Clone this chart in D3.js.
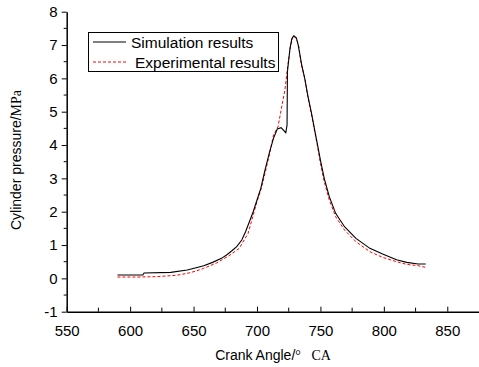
<!DOCTYPE html>
<html>
<head>
<meta charset="utf-8">
<script src="https://cdn.jsdelivr.net/npm/d3@7"></script>
<style>
  body { margin: 0; background: #fff; }
  svg text { font-family: "Liberation Sans", Arial, sans-serif; fill: #000; }
</style>
</head>
<body>
<script>
// crank angle (deg CA) / pressure (MPa)
var simAngle = [590, 610, 611, 632, 645, 652, 658, 665, 672, 676, 680, 684, 688, 691, 694, 697, 700, 703, 706, 710, 713, 716, 719, 722.7, 723.7, 724, 726, 727.5, 729, 731, 732.5, 735, 737.6, 740, 743, 745.5, 748, 750, 753, 757, 762, 769, 778, 789, 799, 810, 818, 827, 833];
var simPress = [0.10, 0.10, 0.16, 0.18, 0.25, 0.32, 0.38, 0.48, 0.60, 0.70, 0.82, 0.95, 1.15, 1.40, 1.70, 2.00, 2.35, 2.70, 3.20, 3.80, 4.20, 4.48, 4.52, 4.37, 4.60, 6.20, 6.90, 7.20, 7.28, 7.22, 7.00, 6.45, 6.00, 5.50, 4.95, 4.45, 3.95, 3.55, 3.00, 2.45, 1.95, 1.55, 1.20, 0.90, 0.73, 0.56, 0.48, 0.43, 0.43];

var expAngle = [590, 605, 620, 636, 645, 652, 658, 668, 678, 686, 693, 697, 700, 703, 706, 710, 713, 716.6, 719, 722, 724.5, 726.4, 728.4, 731, 733, 735, 738, 740, 743, 745.5, 748, 750, 753, 757, 762, 769, 778, 789, 799, 810, 818, 827, 833];
var expPress = [0.04, 0.04, 0.05, 0.09, 0.15, 0.22, 0.30, 0.46, 0.68, 0.90, 1.35, 1.90, 2.30, 2.65, 3.10, 3.75, 4.30, 4.55, 5.05, 5.65, 6.45, 6.95, 7.27, 7.20, 6.95, 6.40, 5.95, 5.45, 4.90, 4.40, 3.90, 3.45, 2.90, 2.35, 1.85, 1.45, 1.10, 0.80, 0.63, 0.50, 0.42, 0.38, 0.33];

var xTicks = [550, 600, 650, 700, 750, 800, 850];
var yTicks = [-1, 0, 1, 2, 3, 4, 5, 6, 7, 8];
var seriesNames = ["Simulation results", "Experimental results"];

var width = 479, height = 367;

var svg = d3.select("body").append("svg")
  .attr("width", width)
  .attr("height", height);

var x = d3.scaleLinear().domain([550, 875]).range([66.7, 479]);
var y = d3.scaleLinear().domain([-1, 8]).range([311.7, 11.7]);

// x axis: ticks point inward
var xMinor = d3.range(575, 875, 50);
var gx = svg.append("g").attr("transform", "translate(0," + y(-1) + ")");
gx.call(d3.axisBottom(x).tickValues(xTicks).tickFormat(String).tickSizeInner(-5).tickSizeOuter(0).tickPadding(14))
  .call(function(g){ g.select(".domain").attr("stroke-width", 1.5); })
  .selectAll("text").style("font-size", "15px");
gx.selectAll(".minor").data(xMinor).enter().append("line")
  .attr("x1", function(d){ return x(d); }).attr("x2", function(d){ return x(d); })
  .attr("y1", 0).attr("y2", -4).attr("stroke", "#000");

// y axis: ticks point outward
var yMinor = d3.range(-0.5, 8, 1);
var gy = svg.append("g").attr("transform", "translate(" + x(550) + ",0)");
gy.call(d3.axisLeft(y).tickValues(yTicks).tickFormat(String).tickSizeInner(5).tickSizeOuter(0).tickPadding(4))
  .call(function(g){ g.select(".domain").attr("stroke-width", 1.5); })
  .selectAll("text").style("font-size", "15px");
gy.selectAll(".minor").data(yMinor).enter().append("line")
  .attr("y1", function(d){ return y(d); }).attr("y2", function(d){ return y(d); })
  .attr("x1", 0).attr("x2", -3).attr("stroke", "#000");

// curves
var line = d3.line()
  .x(function(d){ return x(d[0]); })
  .y(function(d){ return y(d[1]); });

svg.append("path")
  .datum(d3.zip(expAngle, expPress))
  .attr("d", line)
  .attr("fill", "none")
  .attr("stroke", "#ff0000")
  .attr("stroke-width", 1)
  .attr("stroke-dasharray", "3,2");

svg.append("path")
  .datum(d3.zip(simAngle, simPress))
  .attr("d", line)
  .attr("fill", "none")
  .attr("stroke", "#000")
  .attr("stroke-width", 1.1);

// legend
var lg = svg.append("g");
lg.append("rect")
  .attr("x", 88.5).attr("y", 32.5).attr("width", 190).attr("height", 39)
  .attr("fill", "#fff").attr("stroke", "#000");
lg.append("line").attr("x1", 93).attr("x2", 126).attr("y1", 42).attr("y2", 42)
  .attr("stroke", "#000").attr("stroke-width", 1.1);
lg.append("line").attr("x1", 93).attr("x2", 126).attr("y1", 62).attr("y2", 62)
  .attr("stroke", "#ff0000").attr("stroke-dasharray", "3,2");
lg.append("text").attr("x", 131).attr("y", 48).style("font-size", "15.5px").text(seriesNames[0]);
lg.append("text").attr("x", 135).attr("y", 67.5).style("font-size", "15.5px").text(seriesNames[1]);

// axis titles
var yl = svg.append("text")
  .attr("transform", "translate(21,160) rotate(-90)")
  .attr("text-anchor", "middle")
  .style("font-size", "14px");
yl.append("tspan").text("Cylinder pressure/");
yl.append("tspan").style("font-family", "'Liberation Serif', serif").text("MPa");

var xl = svg.append("text")
  .attr("x", 273).attr("y", 360)
  .attr("text-anchor", "middle")
  .style("font-size", "14px");
xl.append("tspan").text("Crank Angle/");
xl.append("tspan").style("font-family", "'Liberation Serif', serif").text("°\u00a0\u00a0\u00a0CA");
</script>
</body>
</html>
